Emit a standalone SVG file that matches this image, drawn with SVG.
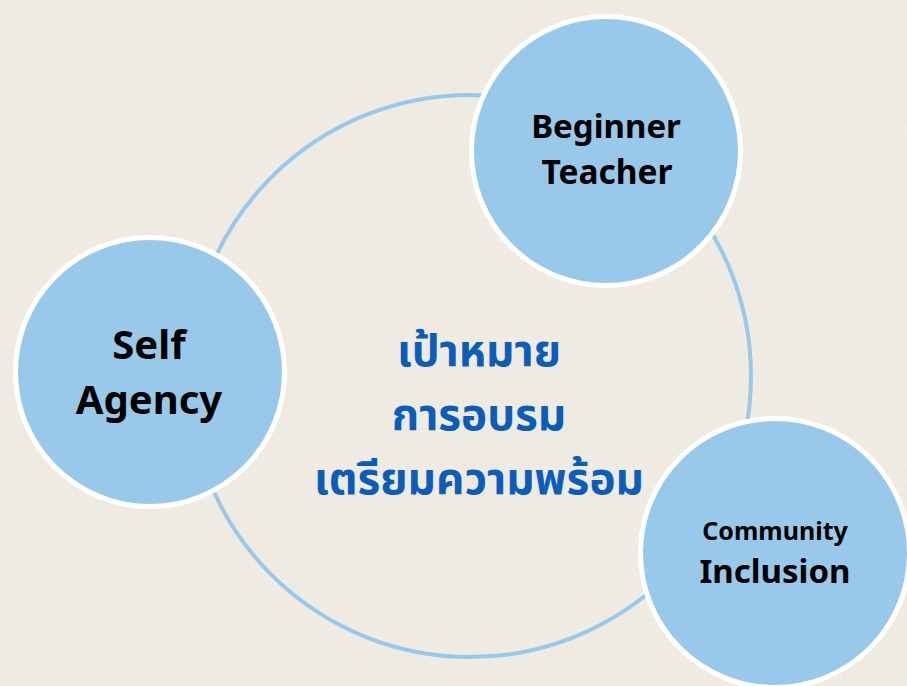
<svg xmlns="http://www.w3.org/2000/svg" width="907" height="686" viewBox="0 0 907 686">
  <style>
    .node { fill: #98C9EB; stroke: #FFFFFF; stroke-width: 5; }
    .ring { fill: none; stroke: #98C9EB; stroke-width: 4; }
    .lbl { font-family: "Noto Sans", "Open Sans", "DejaVu Sans", sans-serif; font-weight: bold; fill: #000000; text-anchor: middle; }
    .thai { font-family: "Noto Sans Thai", "Noto Sans", "DejaVu Sans", sans-serif; font-weight: bold; fill: #0B5DBB; text-anchor: middle; font-size: 44px; }
  </style>
  <defs>
    <filter id="tex" x="0" y="0" width="100%" height="100%">
      <feTurbulence type="fractalNoise" baseFrequency="0.35" numOctaves="2" seed="3" result="n"/>
      <feColorMatrix in="n" type="matrix" values="0 0 0 0 1  0 0 0 0 1  0 0 0 0 1  0 0 0 0.45 -0.08"/>
    </filter>
  </defs>
  <rect width="907" height="686" fill="#EDE9DF"/>
  <rect width="907" height="686" filter="url(#tex)" opacity="0.7"/>
  <g id="connectors">
    <circle class="ring" cx="470" cy="376" r="281"/>
  </g>
  <g id="center-label">
    <text class="thai" x="479" y="366">เป้าหมาย</text>
    <text class="thai" x="479" y="430">การอบรม</text>
    <text class="thai" x="479" y="494">เตรียมความพร้อม</text>
  </g>
  <g id="beginner-teacher">
    <circle class="node" cx="606" cy="151" r="134.5"/>
    <text class="lbl" x="606" y="138" font-size="33">Beginner</text>
    <text class="lbl" x="607" y="184" font-size="33.5">Teacher</text>
  </g>
  <g id="self-agency">
    <circle class="node" cx="150" cy="372" r="134.5"/>
    <text class="lbl" x="149" y="359" font-size="40">Self</text>
    <text class="lbl" x="149" y="414" font-size="40">Agency</text>
  </g>
  <g id="community-inclusion">
    <circle class="node" cx="775" cy="553" r="134.5"/>
    <text class="lbl" x="775" y="540" font-size="25">Community</text>
    <text class="lbl" x="775" y="583" font-size="33">Inclusion</text>
  </g>
</svg>
